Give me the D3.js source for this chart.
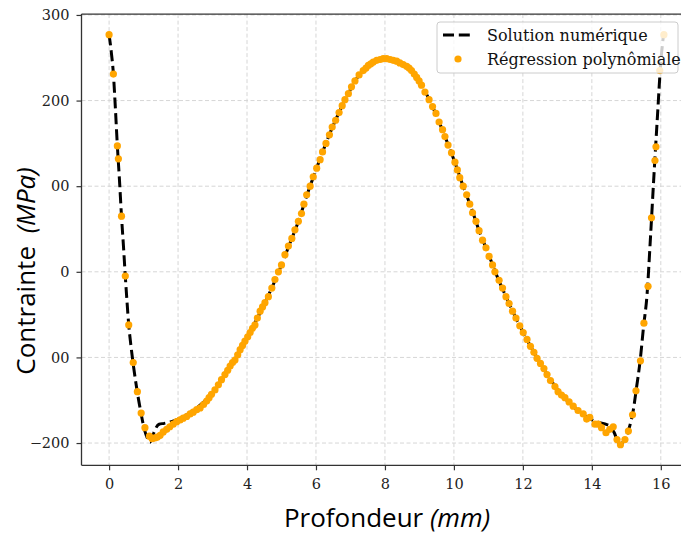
<!DOCTYPE html>
<html><head><meta charset="utf-8">
<script src="https://cdn.jsdelivr.net/npm/d3@7"></script>
<style>body{margin:0;background:#fff}svg{display:block}</style>
</head><body>
<script>
// Numerical solution (dashed line) – depth (mm), stress (MPa)
const lineX = [0,0.06,0.125,0.18,0.24,0.3,0.36,0.42,0.47,0.52,0.57,0.63,0.70,0.76,0.82,0.88,0.93,1.0,1.06,1.12,1.19,1.27,1.35,1.45,1.6,1.8,2.0,2.25,2.5,2.75,3.0,3.25,3.5,3.75,4.0,4.25,4.5,4.75,5.0,5.25,5.5,5.75,6.0,6.25,6.5,6.75,7.0,7.25,7.5,7.75,8.0,8.25,8.5,8.75,9.0,9.25,9.5,9.75,10.0,10.25,10.5,10.75,11.0,11.25,11.5,11.75,12.0,12.25,12.5,12.75,13.0,13.25,13.5,13.75,14.0,14.2,14.4,14.55,14.65,14.75,14.82,14.9,15.0,15.1,15.2,15.3,15.4,15.5,15.6,15.7,15.8,15.9,16.0,16.08];
const lineY = [277,258,231,193,147,108,65,28,-5,-35,-62,-85,-108,-125,-141,-155,-166,-180,-189,-195,-199,-191,-183,-178,-177,-175,-172,-167,-160,-152,-141,-127,-111,-95,-77,-58,-38,-16,8,34,60,91,119,146,171,193,213,230,241,247,249,247,242,235,222,204,182,157,131,102,75,46,21,-5,-28,-50,-70,-89,-106,-123,-137,-149,-159,-167,-173,-176,-178,-181,-188,-198,-202,-199,-192,-180,-162,-134,-104,-64,-27,40,112,180,245,277];

// Polynomial regression (points)
const ptX = [0,0.125,0.24,0.27,0.36,0.47,0.57,0.70,0.82,0.93,1.04,1.17,1.25,1.33,1.40,1.48,1.57,1.67,1.76,1.86,1.96,2.06,2.15,2.25,2.35,2.44,2.54,2.64,2.74,2.83,2.90,2.97,3.07,3.17,3.26,3.36,3.44,3.51,3.58,3.65,3.73,3.80,3.87,3.94,4.02,4.09,4.16,4.23,4.30,4.38,4.45,4.52,4.62,4.72,4.81,4.91,5.0,5.10,5.20,5.30,5.39,5.49,5.58,5.65,5.73,5.83,5.92,6.02,6.12,6.19,6.29,6.39,6.47,6.57,6.67,6.76,6.84,6.94,7.03,7.13,7.25,7.37,7.45,7.52,7.59,7.66,7.76,7.86,7.95,8.05,8.15,8.24,8.34,8.43,8.53,8.63,8.70,8.77,8.85,8.92,8.99,9.06,9.16,9.28,9.38,9.48,9.57,9.67,9.74,9.83,9.93,10.03,10.10,10.17,10.27,10.37,10.46,10.54,10.64,10.73,10.83,10.93,11.02,11.12,11.19,11.31,11.41,11.51,11.60,11.70,11.80,11.91,12.01,12.12,12.22,12.32,12.41,12.51,12.61,12.70,12.80,12.93,13.02,13.12,13.22,13.34,13.46,13.60,13.75,13.85,13.94,14.09,14.18,14.28,14.41,14.52,14.62,14.73,14.83,14.96,15.06,15.18,15.28,15.41,15.51,15.63,15.73,15.83,15.86,15.97,16.09];
const ptY = [277,231,147,132,65,-5,-62,-106,-140,-165,-182,-192,-195,-194,-193,-191,-187,-184,-181,-178,-175,-173,-171,-169,-166,-164,-161,-159,-155,-151,-147,-143,-138,-132,-126,-120,-115,-110,-106,-103,-97,-91,-86,-81,-76,-71,-66,-62,-54,-46,-41,-36,-29,-19,-9,0,8,20,30,39,49,59,68,79,90,100,111,121,131,140,150,160,169,177,186,194,201,208,216,223,230,235,238,241,243,245,247,248,249,249,248,247,246,244,242,240,238,235,231,227,223,218,210,201,193,185,175,166,158,148,139,128,119,110,100,90,79,69,59,48,37,28,18,8,0,-10,-19,-29,-37,-46,-54,-63,-71,-79,-87,-94,-101,-107,-113,-120,-127,-134,-140,-144,-147,-152,-157,-162,-166,-172,-170,-178,-178,-182,-188,-184,-181,-196,-202,-196,-186,-167,-139,-104,-60,-17,63,130,146,235,277];

const xTicks = [0,2,4,6,8,10,12,14,16];
const yTicks = [-200,-100,0,100,200,300];
const yTickLabels = ["\u2212200","00","0","00","200","300"];
const seriesNames = ["Solution numérique","Régression polynômiale"];

const W = 681, H = 534;
const svg = d3.select("body").append("svg").attr("width", W).attr("height", H);

const pL = 81.5, pR = 691.5, pT = 14.1, pB = 465.3;
const x = d3.scaleLinear().domain([-0.80, 16.89]).range([pL, pR]);
const y = d3.scaleLinear().domain([-226, 301]).range([pB, pT]);

// grid
const grid = svg.append("g").attr("stroke", "#d6d6d6").attr("stroke-width", 1).attr("stroke-dasharray", "4,2.5");
grid.selectAll("line.v").data(xTicks).join("line").attr("class","v")
  .attr("x1", d => x(d)).attr("x2", d => x(d)).attr("y1", pT).attr("y2", pB);
grid.selectAll("line.h").data(yTicks).join("line").attr("class","h")
  .attr("y1", d => y(d)).attr("y2", d => y(d)).attr("x1", pL).attr("x2", pR);

// data
const pts = lineX.map((d, i) => [d, lineY[i]]);
svg.append("path").datum(pts)
  .attr("d", d3.line().x(d => x(d[0])).y(d => y(d[1])).curve(d3.curveMonotoneX))
  .attr("fill", "none").attr("stroke", "#000").attr("stroke-width", 3)
  .attr("stroke-dasharray", "11,4.8");

svg.append("g").selectAll("circle").data(ptX.map((d, i) => [d, ptY[i]])).join("circle")
  .attr("cx", d => x(d[0])).attr("cy", d => y(d[1])).attr("r", 3.6).attr("fill", "#ffa500");

// axes
const fontTick = "'DejaVu Serif', serif";
const ax = svg.append("g").attr("transform", `translate(0,${pB})`)
  .call(d3.axisBottom(x).tickValues(xTicks).tickSize(5).tickPadding(8).tickFormat(d3.format("d")));
const ay = svg.append("g").attr("transform", `translate(${pL},0)`)
  .call(d3.axisLeft(y).tickValues(yTicks).tickSize(5).tickPadding(7).tickFormat((d, i) => yTickLabels[i]));
[ax, ay].forEach(g => {
  g.select(".domain").remove();
  g.selectAll(".tick line").attr("stroke", "#333").attr("stroke-width", 1.2);
  g.selectAll("text").attr("font-family", fontTick).attr("font-size", 14.5).attr("fill", "#222");
});

// spines
const sp = svg.append("g").attr("stroke", "#333").attr("stroke-width", 1.3);
sp.append("line").attr("x1", pL).attr("x2", pL).attr("y1", pT).attr("y2", pB);
sp.append("line").attr("x1", pL).attr("x2", pR).attr("y1", pB).attr("y2", pB);
sp.append("line").attr("x1", pL).attr("x2", pR).attr("y1", pT).attr("y2", pT);

// axis labels
const xl = svg.append("text").attr("x", 387).attr("y", 527).attr("text-anchor", "middle")
  .attr("font-family", "'Open Sans', sans-serif").attr("font-size", 26).attr("fill", "#000");
xl.append("tspan").text("Profondeur ");
xl.append("tspan").attr("font-style", "italic").text("(mm)");

const yl = svg.append("text").attr("transform", "translate(35,271) rotate(-90)").attr("text-anchor", "middle")
  .attr("font-family", "'Open Sans', sans-serif").attr("font-size", 26).attr("fill", "#000");
yl.append("tspan").text("Contrainte ");
yl.append("tspan").attr("dx", 6).attr("font-style", "italic").text("(MPa)");

// legend
const lg = svg.append("g");
lg.append("rect").attr("x", 437).attr("y", 22).attr("width", 241).attr("height", 51).attr("rx", 3)
  .attr("fill", "#fff").attr("fill-opacity", 0.8).attr("stroke", "#ccc").attr("stroke-width", 1);
lg.append("line").attr("x1", 443).attr("x2", 471).attr("y1", 35).attr("y2", 35)
  .attr("stroke", "#000").attr("stroke-width", 3).attr("stroke-dasharray", "11,4.8");
lg.append("circle").attr("cx", 458).attr("cy", 59).attr("r", 3.6).attr("fill", "#ffa500");
lg.selectAll("text.l").data(seriesNames).join("text").attr("class","l")
  .attr("x", 487).attr("y", (d, i) => 41 + i * 24)
  .attr("font-family", fontTick).attr("font-size", 16).attr("fill", "#111").text(d => d);
</script>
</body></html>
